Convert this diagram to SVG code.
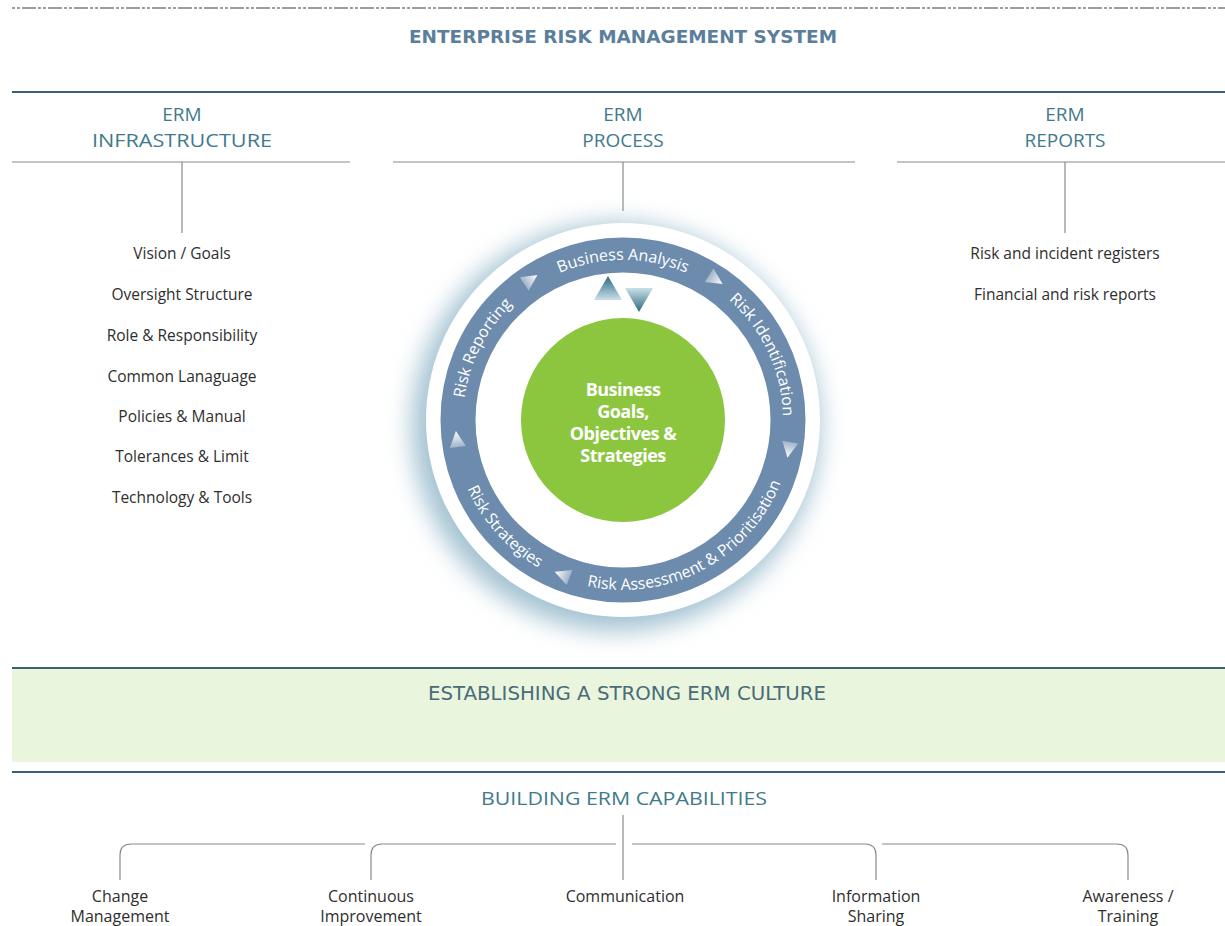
<svg xmlns="http://www.w3.org/2000/svg" xmlns:xlink="http://www.w3.org/1999/xlink" width="1225" height="926" viewBox="0 0 1225 926">
<style>
.hdr{font-family:"Open Sans","Noto Sans",sans-serif;font-size:19px;fill:#3f7a8c;text-anchor:middle}
.item{font-family:"Open Sans","Noto Sans",sans-serif;font-size:15.5px;font-weight:500;fill:#2e2e2e;text-anchor:middle}
.cap{font-family:"Open Sans","Noto Sans",sans-serif;font-size:16px;fill:#2e2e2e;text-anchor:middle}
.ring{font-family:"Open Sans","Noto Sans",sans-serif;font-size:16px;fill:#ffffff;text-anchor:middle}
.core{font-family:"Open Sans","Noto Sans",sans-serif;font-size:18px;font-weight:bold;fill:#ffffff;text-anchor:middle;letter-spacing:-0.5px}
.band{font-family:"DejaVu Sans Condensed","Open Sans",sans-serif;font-size:19px;fill:#4a6c78;text-anchor:middle}
.rule{stroke:#3b6272;stroke-width:2;fill:none}
.thin{stroke:#8a8a8a;stroke-width:1.2;fill:none}
</style>
<defs>
<linearGradient id="triRing" x1="0" y1="0" x2="1" y2="0">
<stop offset="0" stop-color="#ffffff" stop-opacity="0.35"/>
<stop offset="1" stop-color="#ffffff" stop-opacity="1"/>
</linearGradient>
<linearGradient id="triUp" x1="0" y1="0" x2="0" y2="1">
<stop offset="0" stop-color="#2a6a80"/>
<stop offset="1" stop-color="#c9e0e8"/>
</linearGradient>
<linearGradient id="triDown" x1="0" y1="0" x2="0" y2="1">
<stop offset="0" stop-color="#c9e0e8"/>
<stop offset="1" stop-color="#2a6a80"/>
</linearGradient>
<filter id="glow" x="-30%" y="-30%" width="160%" height="160%">
<feGaussianBlur stdDeviation="12"/>
</filter>
<path id="tri" d="M-7,-8 L9,0 L-7,8 Z" fill="url(#triRing)"/>
<path id="pBA" d="M484.4,340 A160,160 0 0 1 761.6,340"/>
<path id="pRI" d="M636.9,260.6 A160,160 0 0 1 754.1,511.8"/>
<path id="pRR" d="M488.8,507.1 A160,160 0 0 1 614.6,260.2"/>
<path id="pRA" d="M509.3,546.3 A170,170 0 0 0 791.3,396.3"/>
<path id="pRS" d="M461.3,367.5 A170,170 0 0 0 658.3,586.3"/>
</defs>

<rect width="1225" height="926" fill="#ffffff"/>

<g id="connectors">
<line x1="12" y1="8" x2="1225" y2="8" stroke="#7c7c7c" stroke-width="1.4" stroke-dasharray="3 2 3 2 14 2"/>
<line class="rule" x1="12" y1="92" x2="1225" y2="92" stroke-width="1.6"/>
<line class="thin" x1="12" y1="162" x2="350" y2="162"/>
<line class="thin" x1="393" y1="162" x2="855" y2="162"/>
<line class="thin" x1="897" y1="162" x2="1225" y2="162"/>
<line class="thin" x1="182" y1="162" x2="182" y2="233"/>
<line class="thin" x1="623" y1="162" x2="623" y2="211"/>
<line class="thin" x1="1065" y1="162" x2="1065" y2="233"/>
<line class="thin" x1="623" y1="815" x2="623" y2="880"/>
<path class="thin" d="M120,880 V855 Q120,844 131,844 H365"/>
<path class="thin" d="M371,880 V855 Q371,844 382,844 H616"/>
<path class="thin" d="M632,844 H865 Q876,844 876,855 V880"/>
<path class="thin" d="M882,844 H1117 Q1128,844 1128,855 V880"/>
</g>

<g id="title">
<text x="623" y="43" font-family="DejaVu Sans Condensed,Open Sans,sans-serif" font-size="18" font-weight="bold" fill="#5b7e9c" text-anchor="middle" textLength="428" lengthAdjust="spacingAndGlyphs">ENTERPRISE RISK MANAGEMENT SYSTEM</text>
</g>

<g id="erm-infrastructure">
<text class="hdr" x="182" y="121">ERM</text>
<text class="hdr" x="182" y="147" textLength="180" lengthAdjust="spacingAndGlyphs">INFRASTRUCTURE</text>
</g>
<g id="erm-process">
<text class="hdr" x="623" y="121">ERM</text>
<text class="hdr" x="623" y="147">PROCESS</text>
</g>
<g id="erm-reports">
<text class="hdr" x="1065" y="121">ERM</text>
<text class="hdr" x="1065" y="147">REPORTS</text>
</g>

<g id="infrastructure-items">
<text class="item" x="182" y="259">Vision / Goals</text>
<text class="item" x="182" y="300">Oversight Structure</text>
<text class="item" x="182" y="341">Role &amp; Responsibility</text>
<text class="item" x="182" y="382">Common Lanaguage</text>
<text class="item" x="182" y="422">Policies &amp; Manual</text>
<text class="item" x="182" y="462">Tolerances &amp; Limit</text>
<text class="item" x="182" y="503">Technology &amp; Tools</text>
</g>

<g id="report-items">
<text class="item" x="1065" y="259">Risk and incident registers</text>
<text class="item" x="1065" y="300">Financial and risk reports</text>
</g>

<g id="process-cycle">
<circle cx="616" cy="427" r="204" fill="#a3c2d1" filter="url(#glow)"/>
<circle cx="623" cy="420" r="197" fill="#ffffff"/>
<circle cx="623" cy="420" r="165" fill="none" stroke="#6d8cad" stroke-width="35"/>
<text class="ring"><textPath href="#pBA" xlink:href="#pBA" startOffset="50%">Business Analysis</textPath></text>
<text class="ring"><textPath href="#pRI" xlink:href="#pRI" startOffset="50%">Risk Identification</textPath></text>
<text class="ring"><textPath href="#pRR" xlink:href="#pRR" startOffset="50%">Risk Reporting</textPath></text>
<text class="ring"><textPath href="#pRA" xlink:href="#pRA" startOffset="50%">Risk Assessment &amp; Prioritisation</textPath></text>
<text class="ring"><textPath href="#pRS" xlink:href="#pRS" startOffset="50%">Risk Strategies</textPath></text>
<use href="#tri" xlink:href="#tri" transform="translate(530,280) rotate(326)"/>
<use href="#tri" xlink:href="#tri" transform="translate(715,279) rotate(33)"/>
<use href="#tri" xlink:href="#tri" transform="translate(789,449) rotate(100)"/>
<use href="#tri" xlink:href="#tri" transform="translate(563,575) rotate(201)"/>
<use href="#tri" xlink:href="#tri" transform="translate(457,440) rotate(263)"/>
<path d="M608,276 L622,300 L594,300 Z" fill="url(#triUp)"/>
<path d="M625,288 L653,288 L639,312 Z" fill="url(#triDown)"/>
</g>

<g id="business-goals">
<circle cx="623" cy="420" r="102" fill="#8cc63f"/>
<text class="core" x="623" y="396">Business</text>
<text class="core" x="623" y="418">Goals,</text>
<text class="core" x="623" y="440">Objectives &amp;</text>
<text class="core" x="623" y="462">Strategies</text>
</g>

<g id="erm-culture">
<rect x="12" y="669" width="1213" height="93" fill="#eaf5de"/>
<line class="rule" x1="12" y1="668" x2="1225" y2="668"/>
<line class="rule" x1="12" y1="772" x2="1225" y2="772"/>
<text class="band" x="627" y="700" textLength="398" lengthAdjust="spacingAndGlyphs">ESTABLISHING A STRONG ERM CULTURE</text>
</g>

<g id="erm-capabilities">
<text class="hdr" x="624" y="805" textLength="286" lengthAdjust="spacingAndGlyphs">BUILDING ERM CAPABILITIES</text>
</g>

<g id="cap-change"><text class="cap" x="120" y="902">Change</text><text class="cap" x="120" y="922">Management</text></g>
<g id="cap-improvement"><text class="cap" x="371" y="902">Continuous</text><text class="cap" x="371" y="922">Improvement</text></g>
<g id="cap-communication"><text class="cap" x="625" y="902">Communication</text></g>
<g id="cap-sharing"><text class="cap" x="876" y="902">Information</text><text class="cap" x="876" y="922">Sharing</text></g>
<g id="cap-awareness"><text class="cap" x="1128" y="902">Awareness /</text><text class="cap" x="1128" y="922">Training</text></g>
</svg>
